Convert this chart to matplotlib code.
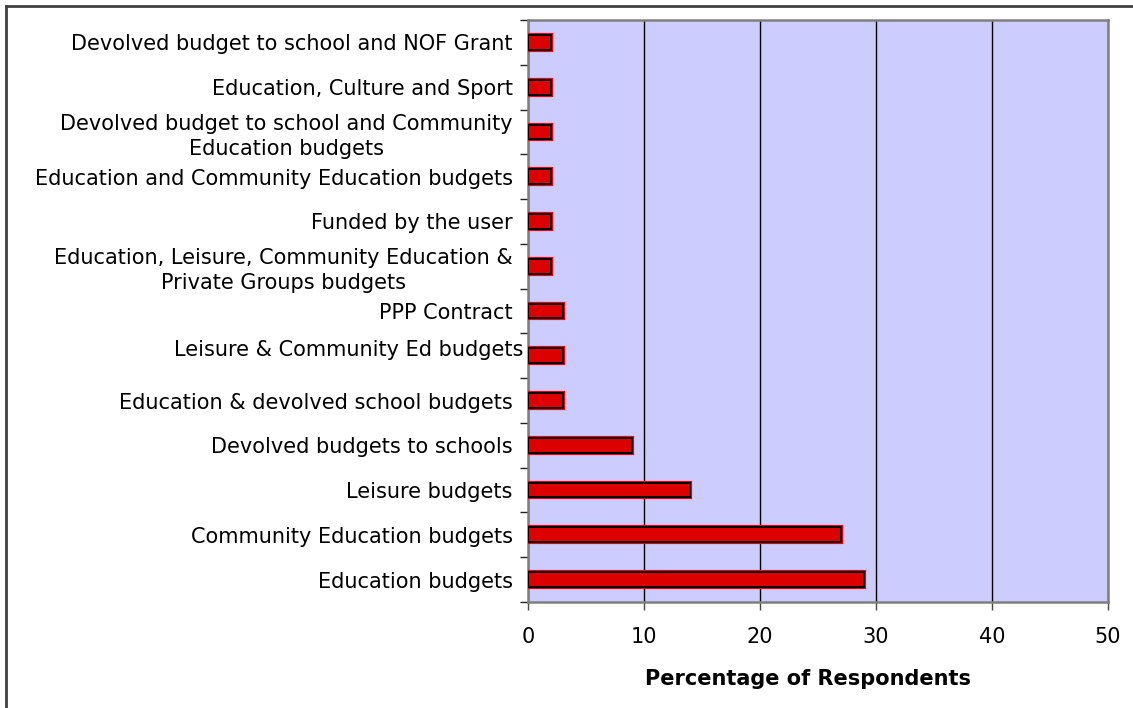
import matplotlib
matplotlib.use("Agg")
import matplotlib.pyplot as plt
from matplotlib.lines import Line2D
from matplotlib.transforms import ScaledTranslation

# Funding sources, listed from the bottom of the chart upwards
categories = [
    "Education budgets",
    "Community Education budgets",
    "Leisure budgets",
    "Devolved budgets to schools",
    "Education & devolved school budgets",
    "Leisure & Community Ed budgets",
    "PPP Contract",
    "Education, Leisure, Community Education &\nPrivate Groups budgets",
    "Funded by the user",
    "Education and Community Education budgets",
    "Devolved budget to school and Community\nEducation budgets",
    "Education, Culture and Sport",
    "Devolved budget to school and NOF Grant",
]
percentages = [29, 27, 14, 9, 3, 3, 3, 2, 2, 2, 2, 2, 2]
x_ticks = [0, 10, 20, 30, 40, 50]
x_label = "Percentage of Respondents"

plt.rcParams["font.family"] = ["DejaVu Sans"]
FS = 15

fig = plt.figure(figsize=(11.33, 7.08), dpi=100)
ax = fig.add_axes([0.466, 0.1497, 0.512, 0.8221])
ax.set_facecolor("#CCCCFF")

pos = list(range(len(categories)))
bar_h = 0.33
# red halo under each bar, then the bar with its black outline
ax.barh(pos, percentages, height=bar_h, color="#DD0000", edgecolor="#EE0000",
        linewidth=3.0, zorder=3)
ax.barh(pos, percentages, height=bar_h, color="#DD0000", edgecolor="black",
        linewidth=1.4, zorder=4)

ax.set_xlim(0, 50)
ax.set_ylim(-0.5, len(categories) - 0.5)
ax.set_xticks(x_ticks)
ax.set_xticklabels([str(t) for t in x_ticks], fontsize=FS)
ax.tick_params(axis="x", length=6, width=1, color="#444444", pad=12)

# category labels sit on the bars; tick marks sit between categories
ax.set_yticks(pos)
ax.set_yticklabels(categories, fontsize=FS, multialignment="center",
                   linespacing=1.3)
ax.tick_params(axis="y", which="major", length=0, pad=11)
ax.set_yticks([p - 0.5 for p in range(len(categories) + 1)], minor=True)
ax.tick_params(axis="y", which="minor", length=6, width=1, color="#222222")

# the long leisure label sits a little higher and further right
lbl = ax.get_yticklabels()[categories.index("Leisure & Community Ed budgets")]
lbl.set_transform(lbl.get_transform() + ScaledTranslation(0.11, 0.08, fig.dpi_scale_trans))

ax.xaxis.grid(True, color="black", linewidth=1.0, zorder=1)
ax.set_axisbelow(True)
for s in ax.spines.values():
    s.set_color("#808080")
    s.set_linewidth(1.8)

ax.set_xlabel(x_label, fontsize=FS, fontweight="bold", labelpad=16)
ax.xaxis.label.set_x(0.483)

# outer frame along the top and left of the figure
fig.add_artist(Line2D([6 / 1133, 1], [1 - 6 / 708, 1 - 6 / 708],
                      transform=fig.transFigure, color="#404040", linewidth=2))
fig.add_artist(Line2D([6 / 1133, 6 / 1133], [0, 1 - 6 / 708],
                      transform=fig.transFigure, color="#404040", linewidth=2))

fig.savefig("out.png", dpi=100, facecolor="white")
